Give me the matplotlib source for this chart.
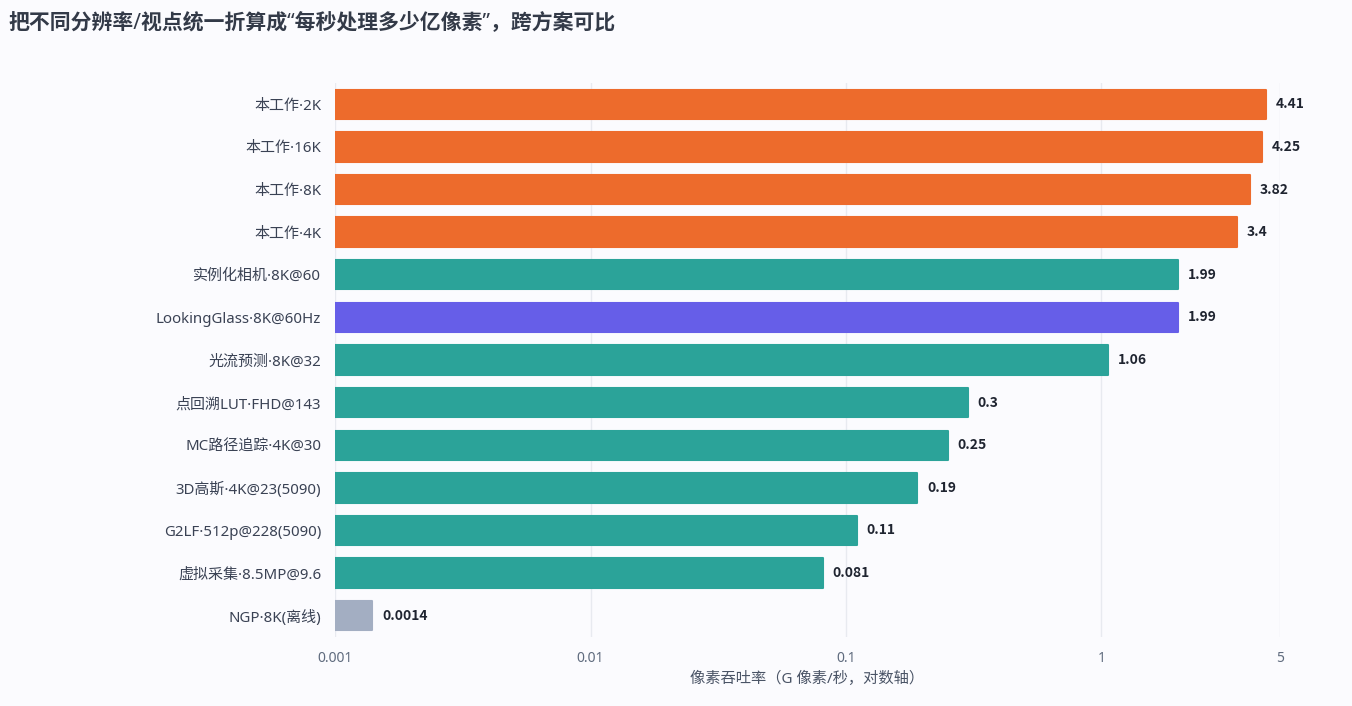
import numpy as np
import matplotlib.pyplot as plt
from matplotlib.ticker import FixedLocator, NullLocator

# latin font first so the middle dot and quotes stay narrow, CJK as fallback
plt.rcParams['font.family'] = ['Noto Sans', 'Noto Sans CJK SC', 'DejaVu Sans']

# data, top to bottom
labels = ['本工作·2K', '本工作·16K', '本工作·8K', '本工作·4K',
          '实例化相机·8K@60', 'LookingGlass·8K@60Hz', '光流预测·8K@32',
          '点回溯LUT·FHD@143', 'MC路径追踪·4K@30', '3D高斯·4K@23(5090)',
          'G2LF·512p@228(5090)', '虚拟采集·8.5MP@9.6', 'NGP·8K(离线)']
values = [4.41, 4.25, 3.82, 3.4, 1.99, 1.99, 1.06, 0.3, 0.25, 0.19, 0.11, 0.081, 0.0014]
value_text = ['4.41', '4.25', '3.82', '3.4', '1.99', '1.99', '1.06', '0.3', '0.25',
              '0.19', '0.11', '0.081', '0.0014']
groups = ['ours'] * 4 + ['other', 'lg'] + ['other'] * 6 + ['offline']

xticks = [0.001, 0.01, 0.1, 1, 5]
xtick_labels = ['0.001', '0.01', '0.1', '1', '5']

colors = {'ours': '#ED6B2C', 'other': '#2BA399', 'lg': '#665EE8', 'offline': '#A3AEC2'}
bg = '#FBFBFE'

fig = plt.figure(figsize=(13.52, 7.06), dpi=100, facecolor=bg)
ax = fig.add_axes([0.2478, 0.0977, 0.699, 0.7847], facecolor=bg)

base = 0.001
y = np.arange(len(labels))
for i in range(len(labels)):
    c = colors[groups[i]]
    ax.barh(y[i], values[i] - base, left=base, height=0.69, color=c,
            edgecolor=c, linewidth=1.5, joinstyle='round', zorder=3)
    # CJK family has a real bold face for the digits
    ax.annotate(value_text[i], (values[i], y[i]), xytext=(7, 0),
                textcoords='offset points', va='center', ha='left',
                fontsize=10, fontweight='bold', color='#1f2430', zorder=4,
                family=['Noto Sans CJK SC'])

ax.set_xscale('log')
ax.set_xlim(0.001, 5)
ax.set_ylim(len(labels) - 0.5, -0.5)
ax.xaxis.set_major_locator(FixedLocator(xticks))
ax.xaxis.set_minor_locator(NullLocator())
ax.set_xticks(xticks)
ax.set_xticklabels(xtick_labels)
ax.set_yticks(y)
ax.set_yticklabels(labels)

ax.tick_params(axis='x', length=0, pad=10, labelsize=10, labelcolor='#5F6B7E')
ax.tick_params(axis='y', length=0, pad=10, labelsize=10.8, labelcolor='#3A4254')
ax.grid(axis='x', color='#E8EAF0', linewidth=1, zorder=0)
for s in ax.spines.values():
    s.set_visible(False)

ax.set_xlabel('像素吞吐率（G 像素/秒，对数轴）', fontsize=11, color='#4A5466', labelpad=4)

fig.text(0.006, 0.968, '把不同分辨率/视点统一折算成“每秒处理多少亿像素”，跨方案可比',
         fontsize=15, fontweight='bold', color='#333A48', va='center', ha='left')

fig.savefig('out.png', dpi=100, facecolor=bg)
